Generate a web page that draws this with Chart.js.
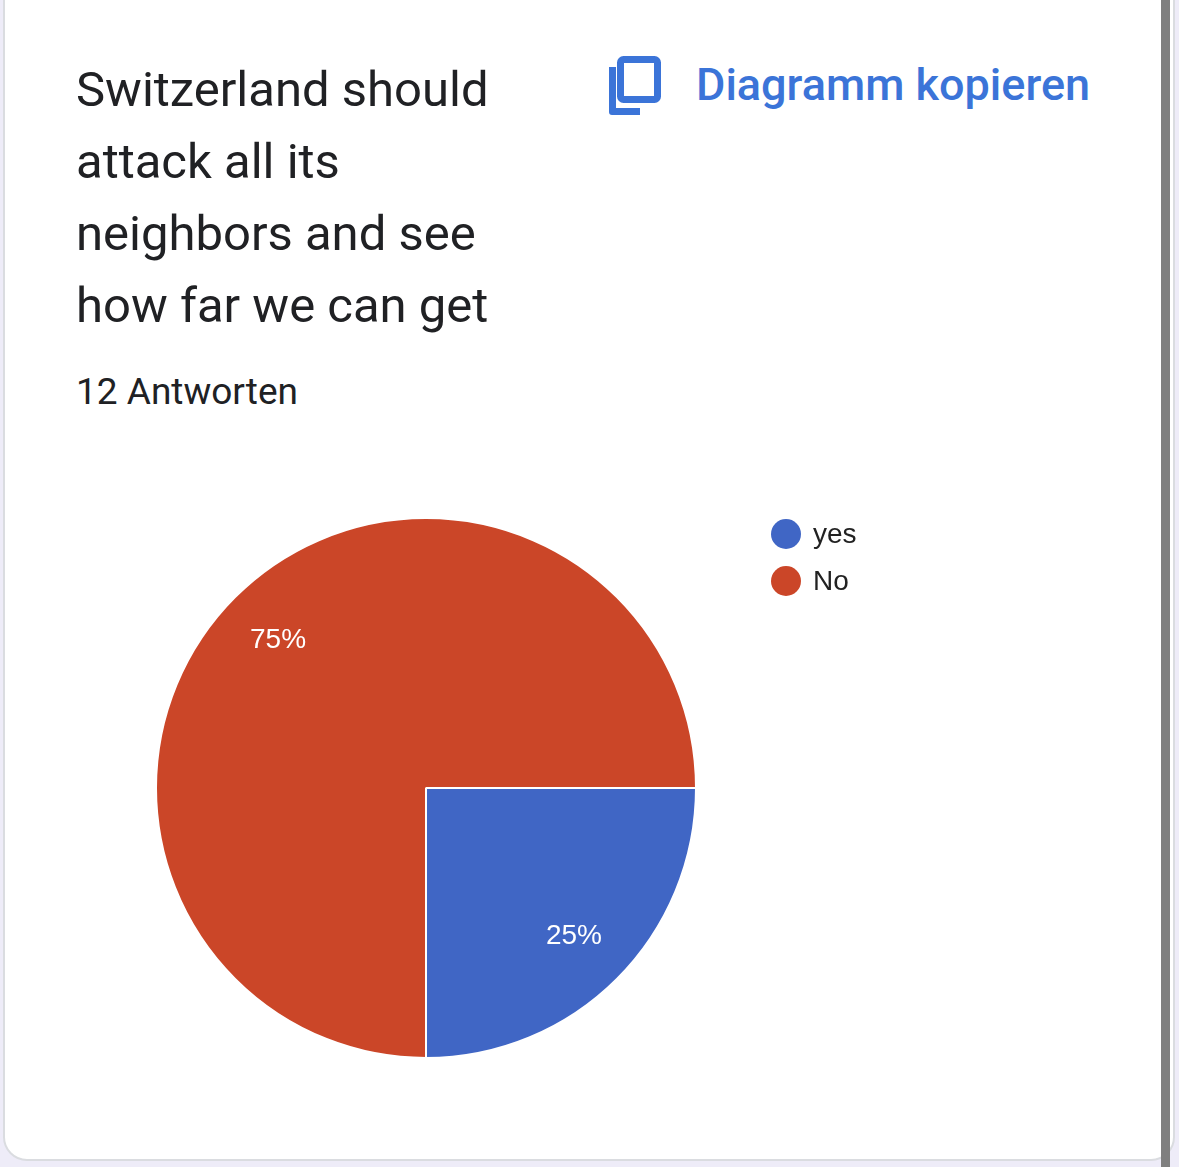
<!DOCTYPE html>
<html>
<head>
<meta charset="utf-8">
<script src="https://cdn.jsdelivr.net/npm/chart.js@4.4.1/dist/chart.umd.min.js"></script>
<style>
  html, body { margin:0; padding:0; width:1179px; height:1167px; overflow:hidden; background:#eeecf8; }
  #card { position:absolute; left:3px; top:-30px; width:1172px; height:1191px; background:#fff;
          border:2px solid #dadce0; border-radius:24px; box-sizing:border-box; }
  #scroll { position:absolute; left:1161px; top:0; width:9px; height:1167px; background:#7f7f7f; }
  #title { position:absolute; left:76px; top:54px; font-family:Roboto, sans-serif; font-size:49px;
           line-height:72px; color:#202124; white-space:nowrap; }
  #count { position:absolute; left:76px; top:372px; font-family:Roboto, sans-serif; font-size:37px;
           line-height:40px; color:#202124; white-space:nowrap; }
  #copy { position:absolute; left:696px; top:60px; font-family:Roboto, sans-serif; font-size:45px; font-weight:500;
          line-height:50px; color:#3b74d8; white-space:nowrap; }
  #icon { position:absolute; left:609px; top:56px; }
  #wrap { position:absolute; left:140px; top:500px; width:800px; height:580px; }
</style>
</head>
<body>
<div id="card"></div>
<div id="scroll"></div>
<div id="title">Switzerland should<br>attack all its<br>neighbors and see<br>how far we can get</div>
<div id="count">12 Antworten</div>
<svg id="icon" width="52" height="60" viewBox="0 0 52 60">
  <rect x="11.5" y="3.5" width="37" height="40" rx="3" ry="3" fill="none" stroke="#3b74d8" stroke-width="7"/>
  <path d="M0 11 H7 V52 H31 V59 H3 Q0 59 0 56 Z" fill="#3b74d8"/>
</svg>
<div id="copy">Diagramm kopieren</div>
<div id="wrap"><canvas id="c" width="800" height="580"></canvas></div>
<script>
const categories = ["yes", "No"];
const counts = [3, 9];
const colors = ["#4066c5", "#cb4628"];

const pctLabels = {
  id: 'pctLabels',
  afterDatasetsDraw(chart) {
    const ctx = chart.ctx;
    const meta = chart.getDatasetMeta(0);
    const data = chart.data.datasets[0].data;
    const total = data.reduce((a, b) => a + b, 0);
    ctx.save();
    ctx.fillStyle = '#ffffff';
    ctx.font = '28px "Liberation Sans", Arial, sans-serif';
    ctx.textAlign = 'center';
    ctx.textBaseline = 'middle';
    meta.data.forEach((arc, i) => {
      const p = arc.getProps(['x', 'y', 'startAngle', 'endAngle', 'outerRadius'], true);
      const mid = (p.startAngle + p.endAngle) / 2;
      const r = p.outerRadius * 0.775;
      ctx.fillText(Math.round(data[i] / total * 100) + '%', p.x + Math.cos(mid) * r, p.y + Math.sin(mid) * r);
    });
    ctx.restore();
  }
};

const sideLegend = {
  id: 'sideLegend',
  afterDraw(chart) {
    const ctx = chart.ctx;
    const labels = chart.data.labels;
    const bg = chart.data.datasets[0].backgroundColor;
    ctx.save();
    ctx.font = '28px "Liberation Sans", Arial, sans-serif';
    ctx.textBaseline = 'middle';
    ctx.textAlign = 'left';
    labels.forEach((lab, i) => {
      const cy = 34 + i * 47;
      ctx.beginPath();
      ctx.arc(646, cy, 15, 0, Math.PI * 2);
      ctx.fillStyle = bg[i];
      ctx.fill();
      ctx.fillStyle = '#222222';
      ctx.fillText(lab, 673, cy + 1);
    });
    ctx.restore();
  }
};

new Chart(document.getElementById('c'), {
  type: 'pie',
  data: {
    labels: categories,
    datasets: [{
      data: counts,
      backgroundColor: colors,
      borderColor: '#ffffff',
      borderWidth: 2
    }]
  },
  options: {
    responsive: false,
    animation: false,
    rotation: 90,
    layout: { padding: { left: 15, top: 17, right: 243, bottom: 21 } },
    plugins: { legend: { display: false }, tooltip: { enabled: false } },
    events: []
  },
  plugins: [pctLabels, sideLegend]
});
</script>
</body>
</html>
